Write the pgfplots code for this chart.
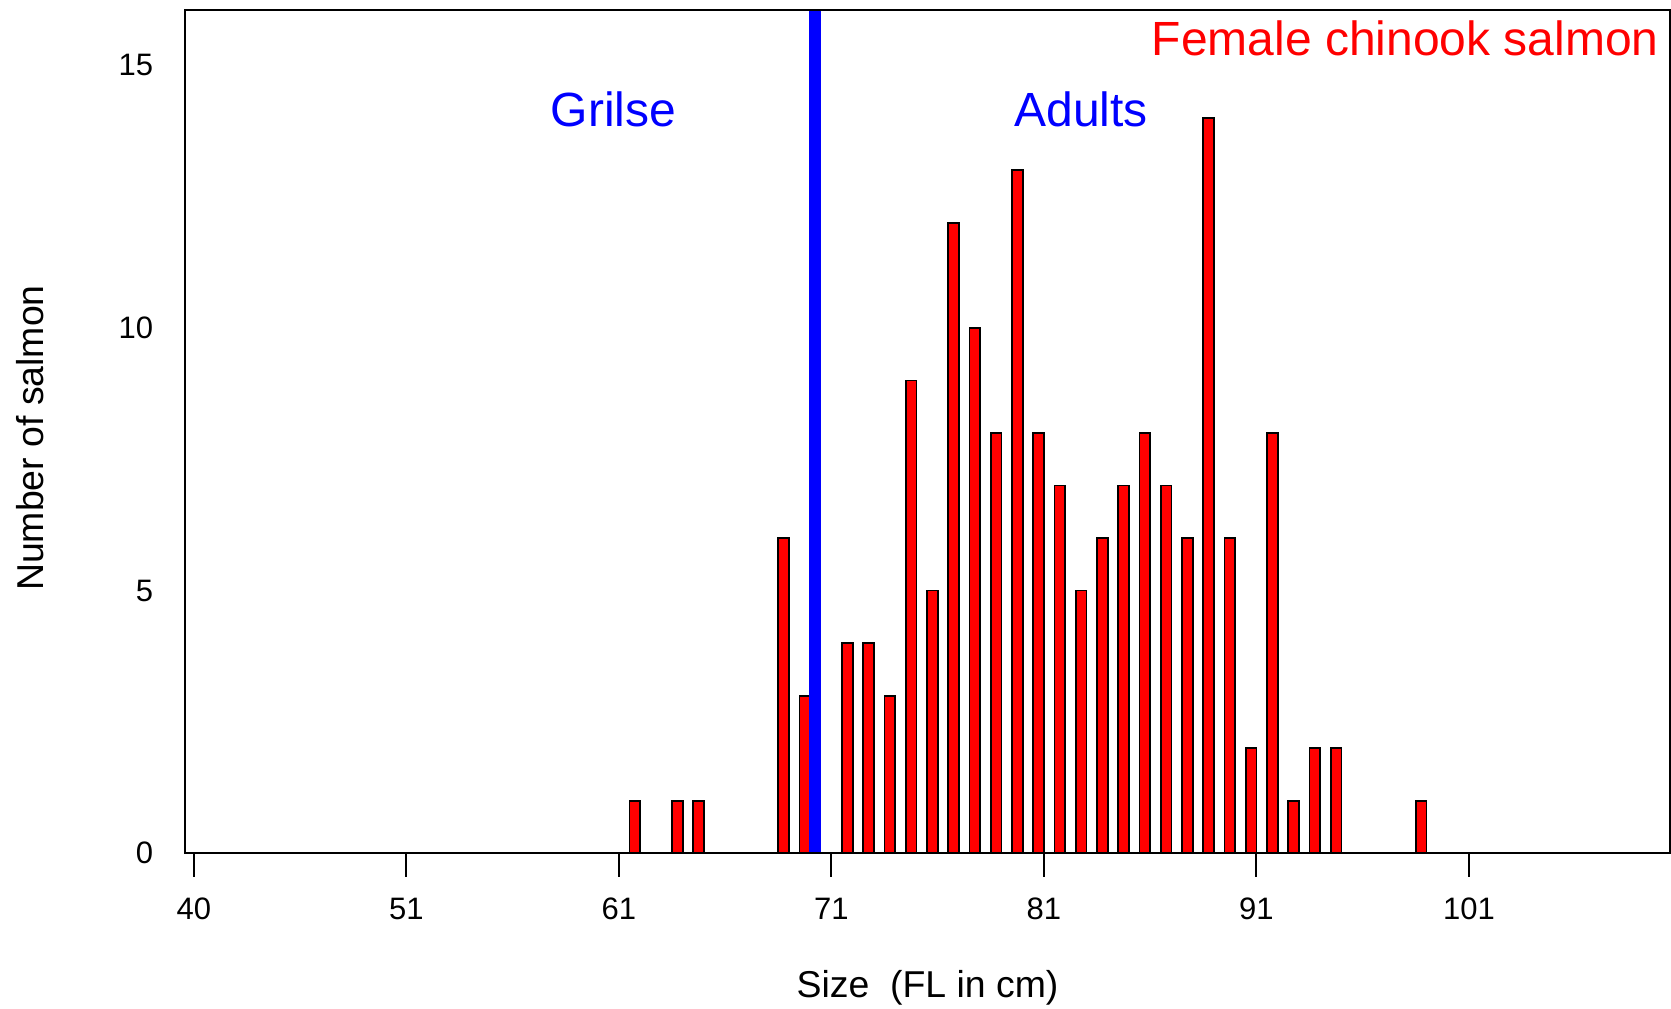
\documentclass[border=0pt]{standalone}
\usepackage{fontspec}
\setmainfont{Liberation Sans}
\usepackage{pgfplots}
\usepackage{pgfplotstable}
\pgfplotsset{compat=1.18}

\definecolor{barred}{RGB}{255,0,0}
\definecolor{cutblue}{RGB}{0,0,255}

% Fork length (cm) and number of female chinook salmon
\pgfplotstableread{
size count
62 1
64 1
65 1
69 6
70 3
72 4
73 4
74 3
75 9
76 5
77 12
78 10
79 8
80 13
81 8
82 7
83 5
84 6
85 7
86 8
87 7
88 6
89 14
90 6
91 2
92 8
93 1
94 2
95 2
99 1
}\femaledata

\newcommand{\tickfont}{\fontsize{15.5}{18}\selectfont}
\newcommand{\labelfont}{\fontsize{18.7}{22}\selectfont}
\newcommand{\notefont}{\fontsize{24}{28}\selectfont}

\begin{document}
\begin{tikzpicture}
\begin{axis}[
  scale only axis,
  width=742.5pt, height=421.65pt,
  at={(0,0)}, anchor=south west,
  xmin=40.83, xmax=110.71,
  ymin=0, ymax=16.05,
  axis on top,
  axis line style={line width=1pt, black},
  xtick={41.25,51.25,61.25,71.25,81.25,91.25,101.25},
  xticklabels={40,51,61,71,81,91,101},
  ytick={0,5,10,15},
  xtick pos=bottom, ytick pos=left,
  tick align=outside,
  major tick length=11.65pt,
  xtick style={line width=1pt, black},
  ytick style={draw=none},
  /pgf/number format/assume math mode=true,
  xticklabel style={font=\tickfont, inner sep=0pt, anchor=north, yshift=-10.35pt},
  yticklabel style={font=\tickfont, inner sep=0pt, anchor=east, xshift=-4.1pt},
  xlabel={Size\ \ (FL in cm)},
  ylabel={Number of salmon},
  xlabel style={at={(axis description cs:0.5,-0.17076)}, anchor=base, inner sep=0pt, font=\labelfont},
  ylabel style={at={(axis description cs:-0.09542,0.4924)}, anchor=base, inner sep=0pt, font=\labelfont},
]
\addplot[ybar, bar width=0.5, fill=barred, draw=black, line width=0.9pt]
  table[x=size, y=count] {\femaledata};

% boundary between grilse and adults
\addplot[cutblue, line width=5.85pt, forget plot]
  coordinates {(70.47,0) (70.47,16.05)};

\node[anchor=base, inner sep=0pt, text=cutblue, font=\notefont] at (axis cs:61.0,13.84) {Grilse};
\node[anchor=base, inner sep=0pt, text=cutblue, font=\notefont] at (axis cs:83.0,13.84) {Adults};
\node[anchor=base east, inner sep=0pt, text=barred, font=\notefont] at (axis cs:110.2,15.19) {Female chinook salmon};
\end{axis}
\pgfresetboundingbox
\useasboundingbox (-92.5pt,-77.35pt) rectangle (743pt,426.65pt);
\end{tikzpicture}
\end{document}
